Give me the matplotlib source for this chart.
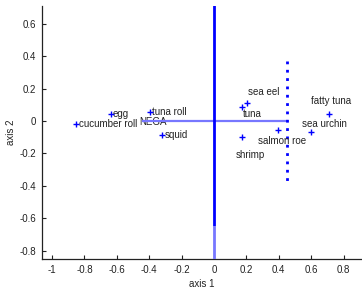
import matplotlib
matplotlib.use("Agg")
import matplotlib.pyplot as plt

plt.rcParams["font.family"] = ["Liberation Sans", "DejaVu Sans"]

names = ["cucumber roll", "egg", "tuna roll", "squid", "sea eel", "tuna",
         "shrimp", "salmon roe", "sea urchin", "fatty tuna"]
ax1 = [-0.85, -0.638, -0.395, -0.319, 0.204, 0.173, 0.171, 0.395, 0.599, 0.712]
ax2 = [-0.017, 0.045, 0.057, -0.086, 0.109, 0.086, -0.099, -0.056, -0.07, 0.045]
# label positions (data coords)
lab_x = [-0.835, -0.623, -0.38, -0.304, 0.212, 0.181, 0.136, 0.27, 0.545, 0.599]
lab_y = [-0.017, 0.045, 0.057, -0.086, 0.177, 0.045, -0.21, -0.123, -0.02, 0.123]

nega_x, nega_y = -0.44, 0.0
thr_x = 0.45
thr_top, thr_bot = 0.372, -0.381
vline_split = -0.65

fig = plt.figure(figsize=(3.62, 2.91), dpi=100)
ax = fig.add_axes([42/362, 1 - 259/291, 1 - 42/362, (259 - 6)/291])
ax.set_xlim(-1.062, 0.914)
ax.set_ylim(-0.852, 0.71)

blue = "#0000ff"
ax.plot([0, 0], [0.75, vline_split], color=blue, lw=2, solid_capstyle="butt", zorder=3)
ax.plot([0, 0], [vline_split, -0.9], color="#7777ff", lw=2, solid_capstyle="butt", zorder=3)
ax.plot([nega_x, thr_x], [nega_y, nega_y], color="#7777ff", lw=1.6, zorder=2)
ax.plot([thr_x, thr_x], [thr_top, thr_bot], color=blue, lw=2, ls=(0, (1, 2)), zorder=3)

ax.plot(ax1, ax2, "+", color=blue, ms=4, mew=1.0, zorder=4)
for n, x, y in zip(names, lab_x, lab_y):
    ax.text(x, y, n, fontsize=7, color="#222222", ha="left", va="center")
ax.text(nega_x - 0.02, nega_y - 0.005, "NEGA", fontsize=7, color="#222222",
        ha="left", va="center", zorder=1)

ax.set_xticks([-1, -0.8, -0.6, -0.4, -0.2, 0, 0.2, 0.4, 0.6, 0.8])
ax.set_xticklabels(["-1", "-0.8", "-0.6", "-0.4", "-0.2", "0", "0.2", "0.4", "0.6", "0.8"])
ax.set_yticks([-0.8, -0.6, -0.4, -0.2, 0, 0.2, 0.4, 0.6])
ax.set_yticklabels(["-0.8", "-0.6", "-0.4", "-0.2", "0", "0.2", "0.4", "0.6"])
ax.tick_params(direction="in", length=3, width=0.8, labelsize=7, colors="#222222", pad=4)
for s in ["top", "right"]:
    ax.spines[s].set_visible(False)
for s in ["left", "bottom"]:
    ax.spines[s].set_linewidth(0.9)
    ax.spines[s].set_color("#222222")
ax.set_xlabel("axis 1", fontsize=7, color="#222222", labelpad=3)
ax.set_ylabel("axis 2", fontsize=7, color="#222222", labelpad=3)

fig.savefig("out.png", dpi=100)
